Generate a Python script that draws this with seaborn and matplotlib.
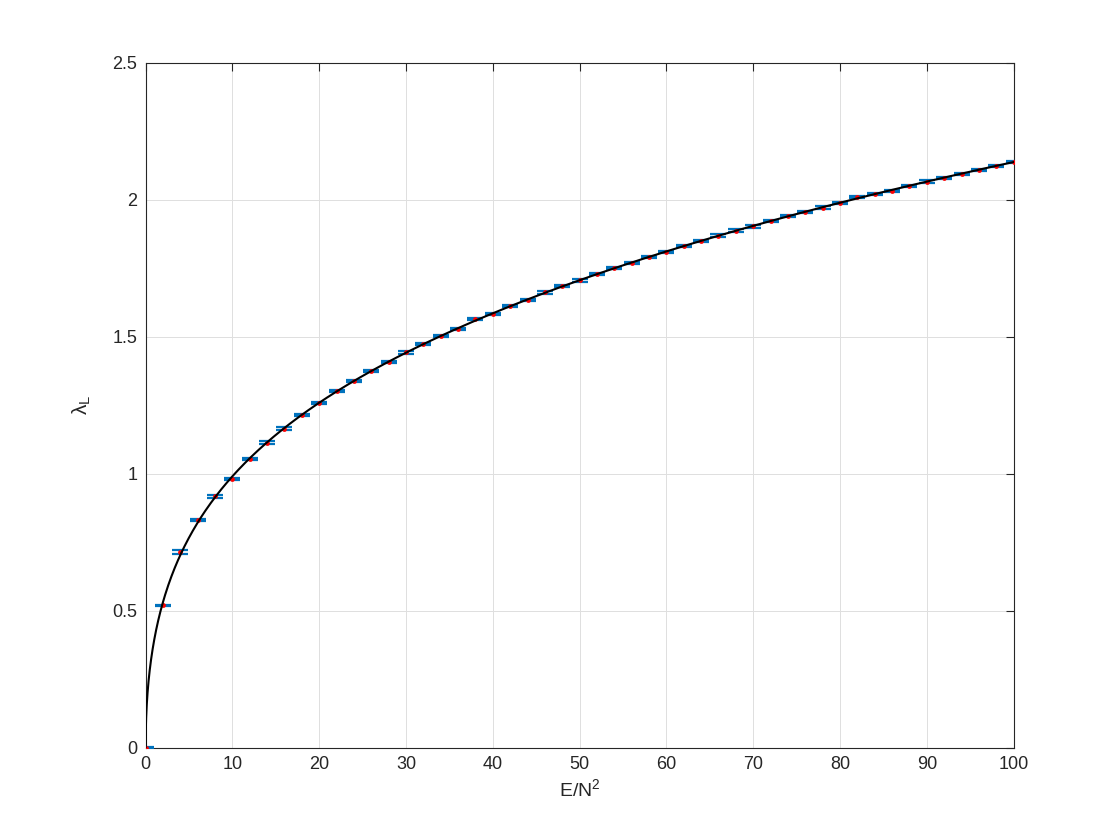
import matplotlib
import matplotlib.pyplot as plt
import numpy as np
import pandas as pd
import seaborn as sns

matplotlib.use("Agg")

# --- DATA ---
energy = list(range(0, 101, 2))  # E/N^2
lyapunov = [
    0.000, 0.519, 0.714, 0.830, 0.917, 0.982, 1.055, 1.114, 1.165, 1.214,
    1.259, 1.303, 1.339, 1.376, 1.408, 1.443, 1.475, 1.502, 1.529, 1.564,
    1.584, 1.613, 1.635, 1.662, 1.686, 1.706, 1.730, 1.751, 1.770, 1.791,
    1.811, 1.832, 1.850, 1.870, 1.888, 1.903, 1.923, 1.942, 1.956, 1.972,
    1.988, 2.011, 2.023, 2.034, 2.052, 2.067, 2.080, 2.096, 2.110, 2.125,
    2.139,
]
lyapunov_err = [
    0.002, 0.003, 0.008, 0.004, 0.004, 0.004, 0.004, 0.004, 0.004, 0.004,
    0.004, 0.004, 0.004, 0.004, 0.004, 0.004, 0.004, 0.004, 0.004, 0.004,
    0.004, 0.004, 0.004, 0.004, 0.004, 0.004, 0.004, 0.004, 0.004, 0.004,
    0.004, 0.004, 0.004, 0.004, 0.004, 0.004, 0.004, 0.004, 0.004, 0.004,
    0.004, 0.004, 0.004, 0.004, 0.004, 0.004, 0.004, 0.004, 0.004, 0.004,
    0.004,
]
x_ticks = list(range(0, 101, 10))
y_ticks = [0, 0.5, 1, 1.5, 2, 2.5]
y_tick_labels = ["0", "0.5", "1", "1.5", "2", "2.5"]
# -------------------------------------

df = pd.DataFrame({"E": energy, "lam": lyapunov, "err": lyapunov_err})


def sqrt_basis(e, deg=5):
    s = np.sqrt(e)
    return np.column_stack([s ** k for k in range(1, deg + 1)])


# smooth fit through the measurements (polynomial in sqrt(E), through origin)
x = df["E"].to_numpy(float)
coef, *_ = np.linalg.lstsq(sqrt_basis(x), df["lam"].to_numpy(), rcond=None)
x_fit = np.concatenate([np.linspace(0, 2, 400), np.linspace(2, 100, 800)])
fit = pd.DataFrame({"E": x_fit, "lam": sqrt_basis(x_fit) @ coef})

sns.set_style("white")
plt.rcParams["font.family"] = ["Liberation Sans", "DejaVu Sans"]
plt.rcParams["mathtext.fontset"] = "custom"
plt.rcParams["mathtext.rm"] = "Liberation Sans"
plt.rcParams["mathtext.it"] = "Liberation Sans"
plt.rcParams["mathtext.bf"] = "Liberation Sans:bold"

fig = plt.figure(figsize=(11.2, 8.4), dpi=100)
ax = fig.add_axes([0.13, 0.11, 0.775, 0.815])

ax.errorbar(
    df["E"], df["lam"], yerr=df["err"], fmt="none",
    ecolor="#0072BD", elinewidth=1.2, capsize=5.5, capthick=1.6, zorder=3,
)
sns.scatterplot(
    data=df, x="E", y="lam", color="red", s=12, linewidth=0, ax=ax, zorder=4
)
sns.lineplot(
    data=fit, x="E", y="lam", color="black", linewidth=1.5, ax=ax,
    sort=False, zorder=5,
)

ax.set_xlim(0, 100)
ax.set_ylim(0, 2.5)
ax.set_xticks(x_ticks)
ax.set_yticks(y_ticks)
ax.set_yticklabels(y_tick_labels)
ax.grid(True, color="#dfdfdf", linewidth=0.7)
ax.set_axisbelow(True)

for side in ["top", "bottom", "left", "right"]:
    ax.spines[side].set_visible(True)
    ax.spines[side].set_color("#262626")
    ax.spines[side].set_linewidth(0.8)
ax.tick_params(
    direction="in", length=6, width=0.8, colors="#262626",
    top=True, right=True, labelsize=13, pad=6,
)

ax.set_xlabel("E/N$^2$", fontsize=14, color="#262626", labelpad=4)
ax.set_ylabel(r"$\lambda_L$", fontsize=15, color="#262626", labelpad=14)

plt.savefig("out.png", dpi=100)
